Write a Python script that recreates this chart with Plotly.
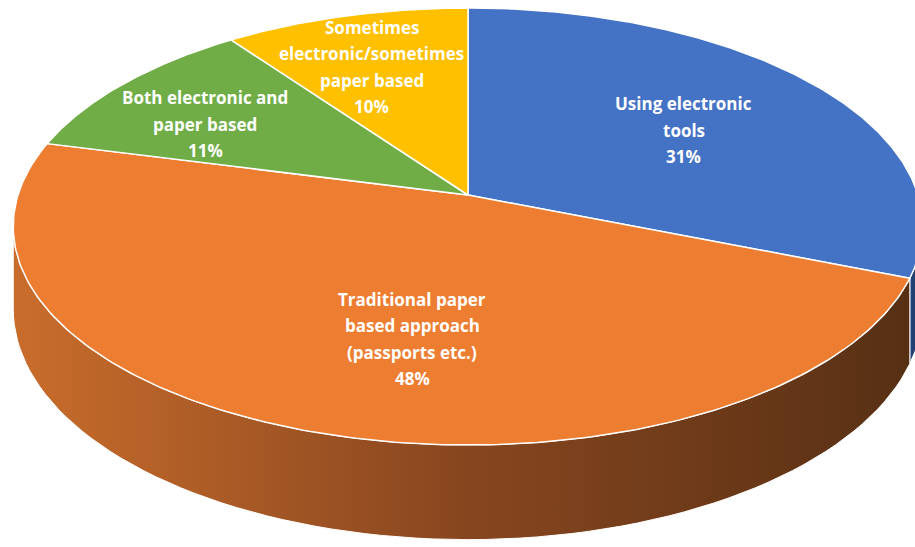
import numpy as np
import plotly.graph_objects as go

# ---- data ----
categories = [
    "Using electronic tools",
    "Traditional paper based approach (passports etc.)",
    "Both electronic and paper based",
    "Sometimes electronic/sometimes paper based",
]
label_lines = [
    ["Using electronic", "tools"],
    ["Traditional paper", "based approach", "(passports etc.)"],
    ["Both electronic and", "paper based"],
    ["Sometimes", "electronic/sometimes", "paper based"],
]
values = [31, 48, 11, 10]

# ---- styles ----
top_colors = ["#4472C4", "#ED7D31", "#70AD47", "#FFC000"]
side_scales = [
    [[0, "#24447A"], [1, "#1B335F"]],
    [[0, "#C96D2C"], [0.5, "#88461F"], [1, "#573014"]],
    [[0, "#4A7A2C"], [1, "#35561F"]],
    [[0, "#B38600"], [1, "#7F5F00"]],
]
W, H = 915, 547
CX, CY = 468, 195      # projected pie centre (px)
A, B = 450, 214        # horizontal / depth radii (px)
K = 0.144              # perspective factor
D = 81                 # thickness (px)
LABEL_R = 0.6
label_shift = [(3, 4), (35, 11), (-50, -2), (-19, -15)]
LINE_H = 26.5
FONT = dict(family="Open Sans", size=17, color="white")


def proj(theta_deg, r, z):
    t = np.radians(theta_deg)
    u, v = r * np.cos(t), r * np.sin(t)
    s = 1.0 / (1.0 + K * v)
    return CX + A * u * s, CY + (-B * v + D * z) * s


total = float(sum(values))
fracs = [v / total for v in values]
starts = np.concatenate([[0], np.cumsum(fracs)[:-1]])
ends = np.cumsum(fracs)

fig = go.Figure()

# visible front side range (angles increasing)
sil = np.degrees(np.arcsin(K))
vis_lo, vis_hi = -180 + sil, -sil

# ---- side walls ----
for i in range(len(values)):
    th1 = 90 - 360 * starts[i]
    th2 = 90 - 360 * ends[i]
    lo, hi = th2, th1
    for shift in (-360, 0, 360):
        a, b = max(lo + shift, vis_lo), min(hi + shift, vis_hi)
        if b > a:
            ts = np.linspace(a, b, 80)
            xt, yt = proj(ts, 1.0, 0.0)
            xb, yb = proj(ts[::-1], 1.0, 1.0)
            xs = np.concatenate([xt, xb, xt[:1]])
            ys = np.concatenate([yt, yb, yt[:1]])
            fig.add_trace(go.Scatter(
                x=xs, y=ys, mode="lines", fill="toself",
                fillgradient=dict(type="horizontal", colorscale=side_scales[i]),
                line=dict(color="white", width=1),
                hoverinfo="skip", showlegend=False))

# ---- top face slices ----
for i in range(len(values)):
    th1 = 90 - 360 * starts[i]
    th2 = 90 - 360 * ends[i]
    ts = np.linspace(th1, th2, 200)
    xa, ya = proj(ts, 1.0, 0.0)
    xc, yc = proj(0.0, 0.0, 0.0)
    xs = np.concatenate([[xc], xa, [xc]])
    ys = np.concatenate([[yc], ya, [yc]])
    fig.add_trace(go.Scatter(
        x=xs, y=ys, mode="lines", fill="toself",
        fillcolor=top_colors[i], line=dict(color="white", width=1.5),
        name=categories[i], hoverinfo="name", showlegend=False))

# ---- labels ----
for i in range(len(values)):
    mid = 90 - 360 * (starts[i] + ends[i]) / 2
    lx, ly = proj(mid, LABEL_R, 0.0)
    lx += label_shift[i][0]
    ly += label_shift[i][1]
    lines = label_lines[i] + [f"{values[i]}%"]
    n = len(lines)
    for j, txt in enumerate(lines):
        fig.add_annotation(
            x=lx, y=ly + (j - (n - 1) / 2) * LINE_H,
            xref="x", yref="y", text=f"<b>{txt}</b>",
            showarrow=False, font=FONT, xanchor="center", yanchor="middle")

fig.update_layout(
    width=W, height=H, margin=dict(l=0, r=0, t=0, b=0),
    paper_bgcolor="white", plot_bgcolor="white",
    xaxis=dict(range=[0, W], visible=False, fixedrange=True),
    yaxis=dict(range=[H, 0], visible=False, fixedrange=True),
    showlegend=False,
)
fig.write_html("out.html")
